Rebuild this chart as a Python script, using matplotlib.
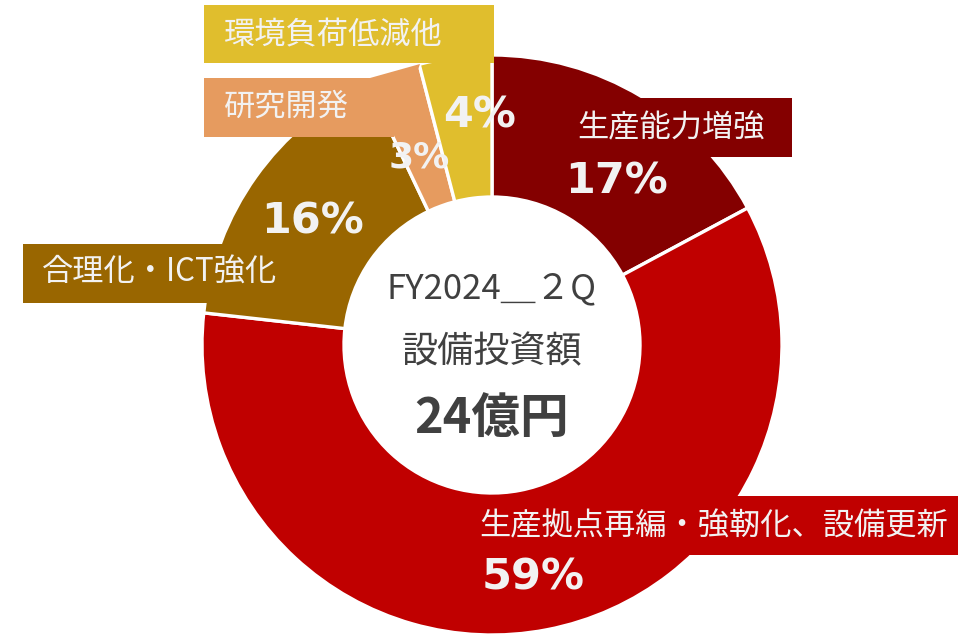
import matplotlib
matplotlib.use('Agg')
import matplotlib.pyplot as plt
from matplotlib.patches import Rectangle, Polygon

plt.rcParams['font.family'] = ['Noto Sans CJK JP', 'DejaVu Sans']

# data
labels = ['生産能力増強', '生産拠点再編・強靭化、設備更新', '合理化・ICT強化', '研究開発', '環境負荷低減他']
shares = [17, 59, 16, 3, 4]
colors = ['#840000', '#C00000', '#996600', '#E69B5F', '#E0BE2D']
center_lines = ['FY2024＿２Q', '設備投資額', '24億円']

W, H = 966, 635


def py(y):
    # pixel row (top-down) -> data y (bottom-up)
    return H - y


fig = plt.figure(figsize=(W / 100, H / 100), dpi=100)
ax = fig.add_axes([0, 0, 1, 1])

cx, cy, r_out, r_in = 492, 345, 290, 148
ax.pie(shares, colors=colors, startangle=90, counterclock=False,
       radius=r_out, center=(cx, py(cy)),
       wedgeprops=dict(width=r_out - r_in, edgecolor='white', linewidth=2.4))

# label boxes (x0, y0, x1, y1 in pixel coords)
boxes = [(560, 98, 792, 157), (470, 496, 958, 555), (23, 244, 240, 303),
         (204, 78, 378, 137), (204, 5, 494, 63)]
for (x0, y0, x1, y1), c in zip(boxes, colors):
    ax.add_patch(Rectangle((x0, py(y1)), x1 - x0, y1 - y0, facecolor=c,
                           edgecolor='none', zorder=3))
# small pointer joining the 研究開発 box to its slice
ax.add_patch(Polygon([(370, py(78)), (420, py(64)), (394, py(137)), (370, py(137))],
                     closed=True, facecolor=colors[3], edgecolor='none', zorder=3))

txt = '#F2F2F2'
label_pos = [(577, 128), (479, 526), (42, 273), (224, 107), (224, 35)]
for lab, (x, y) in zip(labels, label_pos):
    ax.text(x, py(y), lab, color=txt, fontsize=22.5, ha='left', va='center', zorder=5)

pct_pos = [(617, 182), (533, 577), (313, 222), (419, 158), (480, 115)]
pct_size = [31, 31, 31, 26, 31]
for v, (x, y), fs in zip(shares, pct_pos, pct_size):
    ax.text(x, py(y), f'{v}%', color=txt, fontsize=fs, fontweight='bold',
            family='DejaVu Sans', ha='center', va='center', zorder=5)

# centre text
ax.text(cx, py(289), center_lines[0], color='#404040', fontsize=25, ha='center', va='center')
ax.text(cx, py(352), center_lines[1], color='#404040', fontsize=26, ha='center', va='center')
ax.text(cx, py(418), center_lines[2], color='#404040', fontsize=35, fontweight='bold',
        ha='center', va='center')

ax.set_xlim(0, W)
ax.set_ylim(0, H)
ax.set_axis_off()

plt.savefig('out.png', dpi=100)
